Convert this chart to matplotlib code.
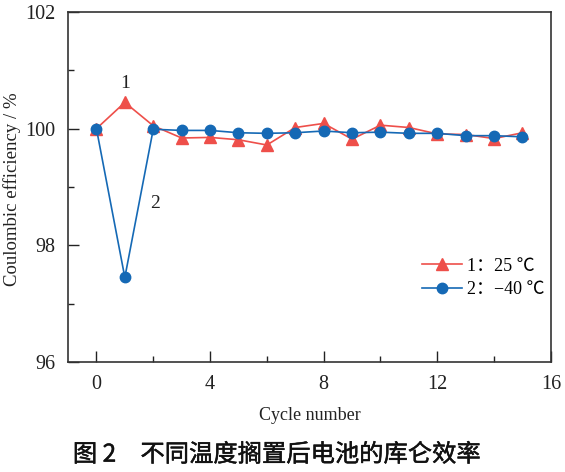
import matplotlib
matplotlib.use("Agg")
import matplotlib.pyplot as plt
import matplotlib.patheffects as pe
from matplotlib.ticker import MultipleLocator

plt.rcParams['font.family'] = ['Liberation Serif', 'Noto Sans CJK SC']
plt.rcParams['mathtext.fontset'] = 'stix'

cycles = list(range(16))
eff_25 = [100.0, 100.45, 100.05, 99.84, 99.85, 99.81, 99.72, 100.02,
          100.09, 99.82, 100.06, 100.02, 99.91, 99.90, 99.83, 99.93]
eff_m40 = [100.0, 97.45, 99.99, 99.97, 99.97, 99.93, 99.92, 99.93,
           99.96, 99.93, 99.94, 99.92, 99.92, 99.88, 99.88, 99.86]
legend_labels = ['1：25 ℃', '2：−40 ℃']
red = '#EE4F4A'
blue = '#1569B5'

fig = plt.figure(figsize=(5.65, 4.72), dpi=100)
ax = fig.add_axes([0.1204, 0.233, 0.8546, 0.7416])

ax.plot(cycles, eff_25, color=red, lw=1.2, marker='^', ms=8,
        label=legend_labels[0], zorder=3)
ax.plot(cycles, eff_m40, color=blue, lw=1.2, marker='o', ms=7.5,
        label=legend_labels[1], zorder=4)

ax.text(1, 100.78, '1', fontsize=14, ha='center', va='center', color='#222222')
ax.text(2.05, 98.72, '2', fontsize=14, ha='center', va='center', color='#222222')

ax.set_xlim(-1, 16)
ax.set_ylim(96, 102)
ax.xaxis.set_major_locator(MultipleLocator(4))
ax.xaxis.set_minor_locator(MultipleLocator(2))
ax.yaxis.set_major_locator(MultipleLocator(2))
ax.yaxis.set_minor_locator(MultipleLocator(1))
ax.tick_params(which='both', direction='in', top=False, right=False,
               labelsize=14.5, colors='#222222', width=1)
ax.tick_params(which='major', length=8, pad=9)
ax.tick_params(which='minor', length=4)
for s in ax.spines.values():
    s.set_linewidth(1.2)
    s.set_color('#333333')

ax.set_xlabel('Cycle number', fontsize=13, labelpad=10, color='#222222')
ax.set_ylabel('Coulombic efficiency / %', fontsize=13.5, color='#222222')
ax.yaxis.set_label_coords(-0.097, 0.494)

ax.legend(loc='upper left', bbox_to_anchor=(0.7, 0.345), frameon=False,
          fontsize=13, handlelength=2.2, handletextpad=0.3, labelspacing=0.35)

fig.text(0.129, 0.022, '图 2　不同温度搁置后电池的库仑效率', fontsize=17.5,
         family=['Noto Sans CJK SC'], color='#111111',
         path_effects=[pe.withStroke(linewidth=0.35, foreground='#111111')])

fig.savefig('out.png', dpi=100)
